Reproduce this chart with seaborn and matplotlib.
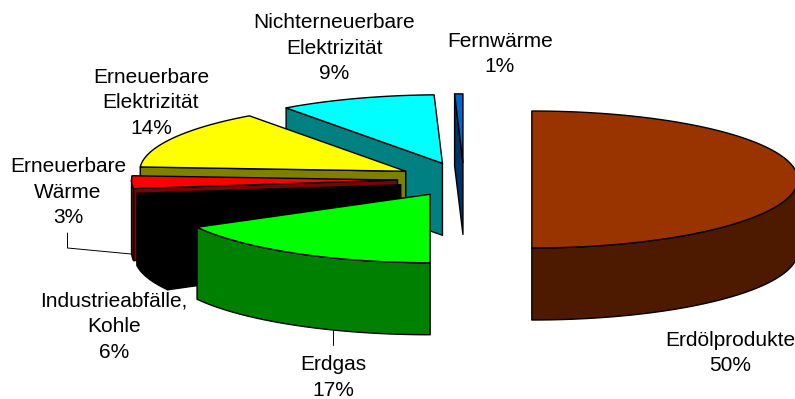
import numpy as np
import matplotlib
matplotlib.use("Agg")
import matplotlib.pyplot as plt
import seaborn as sns

# Data (clockwise from 12 o'clock)
categories = ["Erdölprodukte", "Erdgas", "Industrieabfälle,\nKohle", "Erneuerbare\nWärme",
              "Erneuerbare\nElektrizität", "Nichterneuerbare\nElektrizität", "Fernwärme"]
values = [50.0, 17.0, 6.0, 3.0, 14.0, 9.5, 0.5]
percent_labels = ["50%", "17%", "6%", "3%", "14%", "9%", "1%"]
top_colors = ["#993300", "#00FF00", "#000000", "#FF0000", "#FFFF00", "#00FFFF", "#0066CC"]
side_colors = ["#4D1A00", "#008000", "#000000", "#800000", "#808000", "#008080", "#003366"]
explode = [0.255, 0.25, 0.25, 0.25, 0.25, 0.25, 0.25]
label_centers = [(730, 353), (333.5, 377.5), (114, 326.5), (68, 192), (151, 103), (334, 48), (500, 54)]

# Pie geometry, in output pixels
CX, CY, RX, RY, DEPTH = 464, 179.5, 266, 68.5, 72

sns.set_theme(style="white")
plt.rcParams["font.family"] = ["Liberation Sans", "DejaVu Sans"]

fig, ax = plt.subplots(figsize=(7.95, 3.99), dpi=100)
ax.set_position([0, 0, 1, 1])
ax.set_xlim(0, 795)
ax.set_ylim(399, 0)
ax.axis("off")
sns.despine(ax=ax, left=True, bottom=True)

edges = np.deg2rad(np.concatenate([[0], np.cumsum(values)]) * 3.6)
LW = 1.0


def rim(ang, x0, y0):
    return x0 + RX * np.sin(ang), y0 - RY * np.cos(ang)


# Painted back to front: last slices lie behind the first ones
order = [0, 6, 5, 4, 3, 2, 1]
for i in order:
    a0, a1 = edges[i], edges[i + 1]
    mid = (a0 + a1) / 2
    x0 = CX + explode[i] * RX * np.sin(mid)
    y0 = CY - explode[i] * RY * np.cos(mid)

    # wall along the leading edge, seen when it faces the viewer
    if a0 > np.pi:
        ex, ey = rim(a0, x0, y0)
        ax.fill([x0, ex, ex, x0], [y0, ey, ey + DEPTH, y0 + DEPTH],
                facecolor=side_colors[i], edgecolor="black", lw=LW, joinstyle="round")

    # outer rim, seen on the front half of the ellipse
    lo, hi = max(a0, np.pi / 2), min(a1, 3 * np.pi / 2)
    if hi > lo:
        t = np.linspace(lo, hi, 120)
        rx, ry = rim(t, x0, y0)
        ax.fill(np.r_[rx, rx[::-1]], np.r_[ry, ry[::-1] + DEPTH],
                facecolor=side_colors[i], edgecolor="black", lw=LW, joinstyle="round")

    # top face
    t = np.linspace(a0, a1, 160)
    rx, ry = rim(t, x0, y0)
    ax.fill(np.r_[x0, rx], np.r_[y0, ry],
            facecolor=top_colors[i], edgecolor="black", lw=LW, joinstyle="round")

# Labels
for name, pct, (lx, ly) in zip(categories, percent_labels, label_centers):
    ax.text(lx, ly, f"{name}\n{pct}", ha="center", va="center", ma="center",
            fontsize=15, color="black", linespacing=1.44)

# Leader lines
leader_x = [[67.5, 67.5, 131], [333, 333]]
leader_y = [[233, 248, 254], [325, 345]]
for lxs, lys in zip(leader_x, leader_y):
    ax.plot(lxs, lys, color="black", lw=0.7, zorder=0.5)

fig.savefig("out.png", dpi=100, facecolor="white")
